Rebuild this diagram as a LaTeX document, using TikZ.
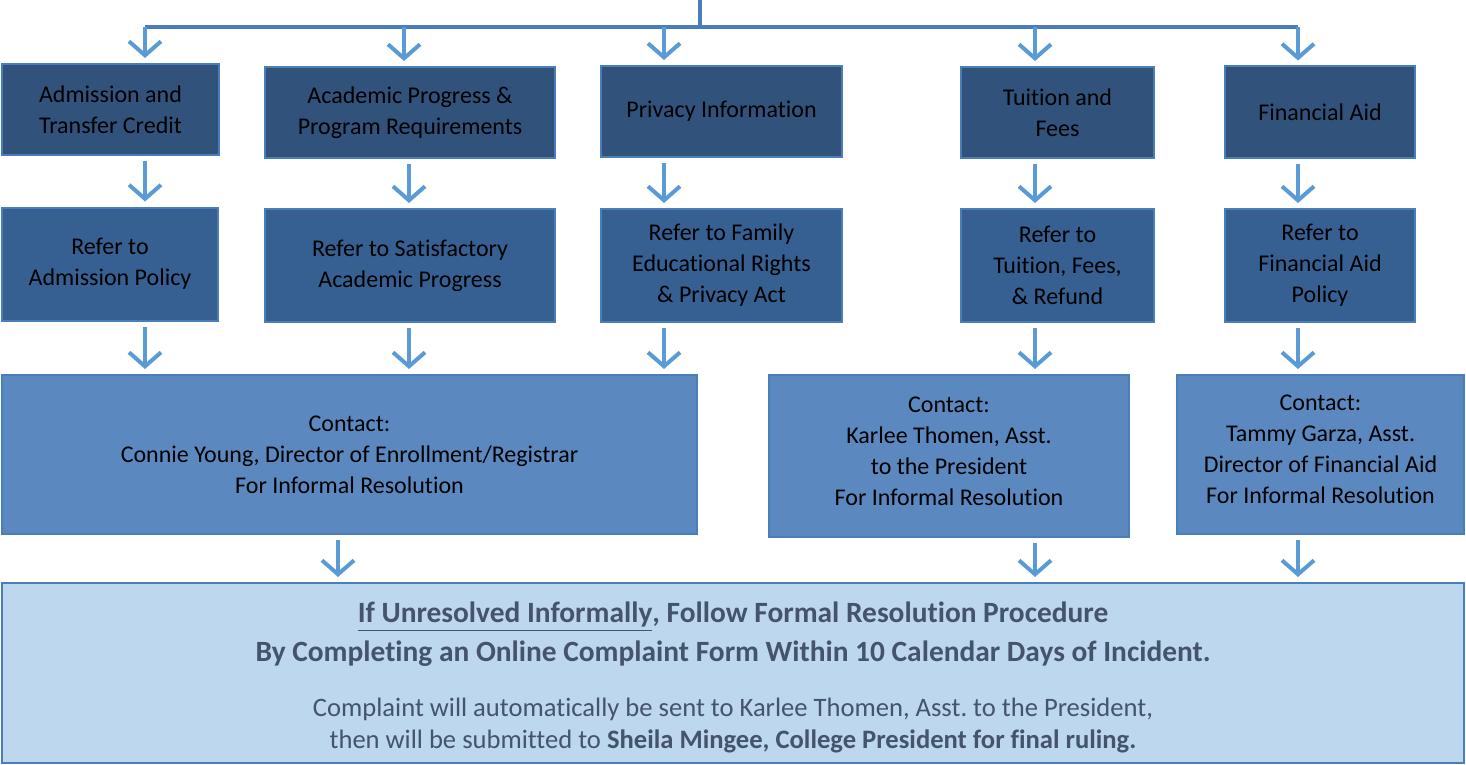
\documentclass[tikz,border=0pt]{standalone}
\usepackage{fontspec}
\setmainfont{Carlito}[Ligatures={NoCommon,NoContextual}]
\usetikzlibrary{arrows.meta, positioning}
\definecolor{topfill}{HTML}{31527B}
\definecolor{midfill}{HTML}{376092}
\definecolor{lowfill}{HTML}{5B88BF}
\definecolor{endfill}{HTML}{BDD7EE}
\definecolor{boxline}{HTML}{4A7EBB}
\definecolor{arrowblue}{HTML}{5B9BD5}
\definecolor{trunkblue}{HTML}{4A7EBB}
\definecolor{notetext}{HTML}{44546A}
\tikzset{box/.style={draw=boxline, line width=1pt, align=center, inner sep=2pt,
                     font=\fontsize{12}{15.5}\selectfont},
         topbox/.style={box, fill=topfill, minimum height=45.5pt},
         midbox/.style={box, fill=midfill, minimum height=56.5pt},
         lowbox/.style={box, fill=lowfill},
         down/.style={draw=arrowblue, line width=2pt,
                      -{Straight Barb[length=7pt, width=16pt, line width=2pt]},
                      shorten <=2.5pt, shorten >=2.5pt}}
\begin{document}
\begin{tikzpicture}[x=0.5pt, y=-0.5pt]
\useasboundingbox (0,0) rectangle (1466,765);
% first row
\node[topbox, minimum width=108.5pt] (adm) at (110.5,109.5) {Admission and\\Transfer Credit};
\node[topbox, minimum width=145pt] (acad) at (410,112.5) {Academic Progress \&\\Program Requirements};
\node[topbox, minimum width=120.5pt] (priv) at (721.5,111.5) {Privacy Information};
\node[topbox, minimum width=96.5pt] (tuit) at (1057.5,112.5) {Tuition and\\Fees};
\node[topbox, minimum width=95pt] (aid) at (1320,112) {Financial Aid};
% second row
\node[midbox, minimum width=108pt] (admref) at (110,264) {Refer to\\Admission Policy};
\node[midbox, minimum width=145pt] (acadref) at (410,265.5) {Refer to Satisfactory\\Academic Progress};
\node[midbox, minimum width=120.5pt] (privref) at (721.5,265.5) {Refer to Family\\Educational Rights\\\& Privacy Act};
\node[midbox, minimum width=96.5pt] (tuitref) at (1057.5,265.5) {Refer to\\Tuition, Fees,\\\& Refund};
\node[midbox, minimum width=95pt] (aidref) at (1320,265.5) {Refer to\\Financial Aid\\Policy};
% contacts
\node[lowbox, minimum width=347.5pt, minimum height=79.5pt] (young) at (349.5,454.5)
  {Contact:\\Connie Young, Director of Enrollment/Registrar\\For Informal Resolution};
\node[lowbox, minimum width=180pt, minimum height=81pt] (thomen) at (949,456)
  {Contact:\\Karlee Thomen, Asst.\\to the President\\For Informal Resolution\rule[-5pt]{0pt}{5pt}};
\node[lowbox, minimum width=143.5pt, minimum height=79.5pt] (garza) at (1320.5,454.5)
  {Contact:\\Tammy Garza, Asst.\\Director of Financial Aid\\For Informal Resolution\rule[-5pt]{0pt}{5pt}};
% formal step
\node[draw=boxline, line width=1pt, fill=endfill, text=notetext, align=center,
      minimum width=731pt, minimum height=90pt, font=\fontsize{13.3}{16}\selectfont] (formal) at (733,673)
  {{\fontsize{14.7}{16}\selectfont\bfseries\rule{0pt}{15pt}\underline{If Unresolved Informally}, Follow Formal Resolution Procedure}\\[3.5pt]
   {\fontsize{14.7}{16}\selectfont\bfseries By Completing an Online Complaint Form Within 10 Calendar Days of Incident.}\\[11.5pt]
   Complaint will automatically be sent to Karlee Thomen, Asst.\ to the President,\\
   then will be submitted to \textbf{Sheila Mingee, College President for final ruling.}};
% trunk
\coordinate (root) at (700,0);
\coordinate (k1) at (145,27);
\coordinate (k2) at (404,27);
\coordinate (k3) at (664,27);
\coordinate (k4) at (1035,27);
\coordinate (k5) at (1298,27);
\draw[trunkblue, line width=2pt] (root) -- (root |- k1);
\draw[trunkblue, line width=2pt] (k1) -- (k5);
\draw[down, shorten <=0pt] (k1) -- (k1 |- adm.north);
\draw[down, shorten <=0pt] (k2) -- (k2 |- acad.north);
\draw[down, shorten <=0pt] (k3) -- (k3 |- priv.north);
\draw[down, shorten <=0pt] (k4) -- (k4 |- tuit.north);
\draw[down, shorten <=0pt] (k5) -- (k5 |- aid.north);
% row to row
\coordinate (m2) at (409,0);
\draw[down] (k1 |- adm.south) -- (k1 |- admref.north);
\draw[down] (m2 |- acad.south) -- (m2 |- acadref.north);
\draw[down] (k3 |- priv.south) -- (k3 |- privref.north);
\draw[down] (k4 |- tuit.south) -- (k4 |- tuitref.north);
\draw[down] (k5 |- aid.south) -- (k5 |- aidref.north);
\draw[down] (k1 |- admref.south) -- (k1 |- young.north);
\draw[down] (m2 |- acadref.south) -- (m2 |- young.north);
\draw[down] (k3 |- privref.south) -- (k3 |- young.north);
\draw[down] (k4 |- tuitref.south) -- (k4 |- thomen.north);
\draw[down] (k5 |- aidref.south) -- (k5 |- garza.north);
\coordinate (m0) at (338,0);
\draw[down] (m0 |- young.south) -- (m0 |- formal.north);
\draw[down] (k4 |- thomen.south) -- (k4 |- formal.north);
\draw[down] (k5 |- garza.south) -- (k5 |- formal.north);
\end{tikzpicture}
\end{document}
